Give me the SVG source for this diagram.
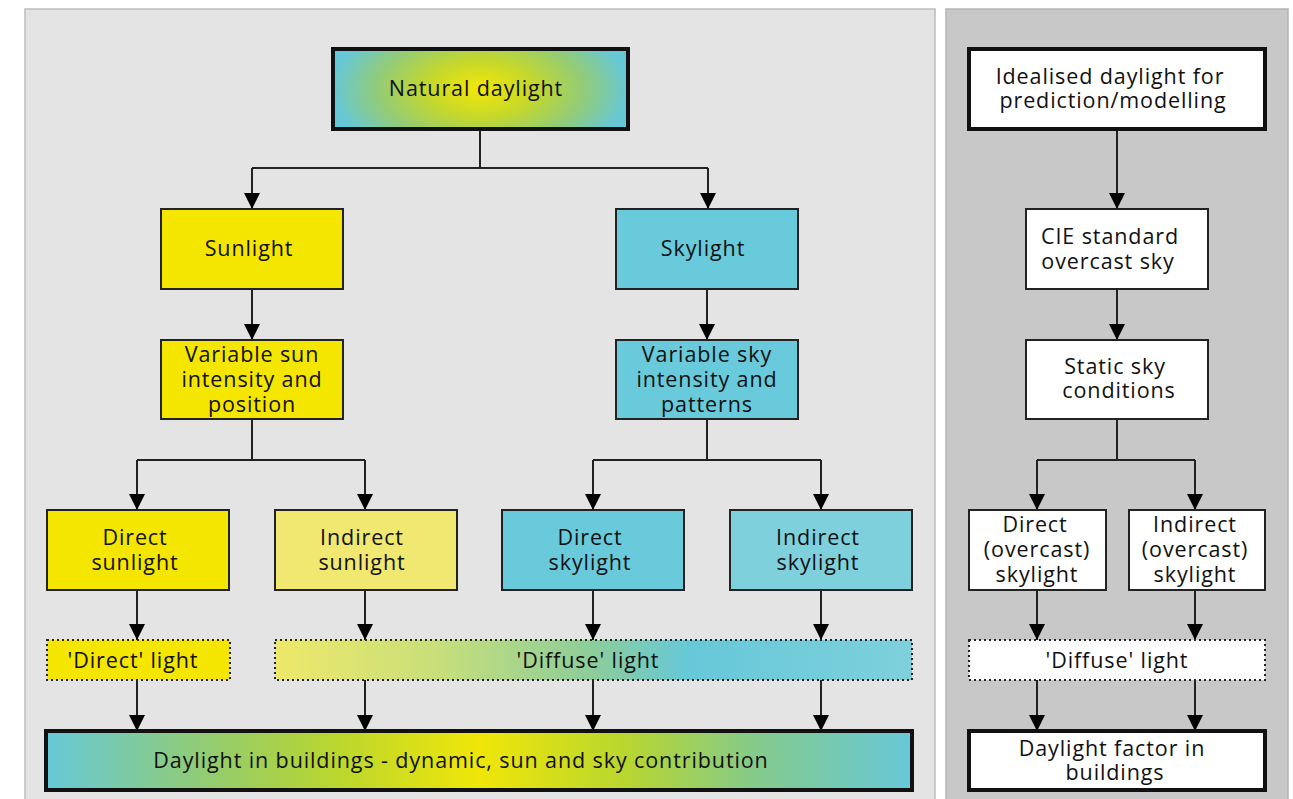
<svg xmlns="http://www.w3.org/2000/svg" width="1293" height="799" viewBox="0 0 1293 799">
<style>
text{font-family:"Open Sans","Noto Sans","DejaVu Sans",sans-serif;font-size:21.5px;letter-spacing:0.9px;fill:#111;text-anchor:middle}
.b{stroke:#222;stroke-width:2}
.thick{stroke:#111;stroke-width:4}
.dot{stroke:#222;stroke-width:2;stroke-dasharray:2 3}
.c{fill:none;stroke:#222;stroke-width:2}
.y{fill:#f5e600}.ly{fill:#f0e870}.t{fill:#68cadb}.lt{fill:#7dd0dc}.w{fill:#fff}
</style>
<defs>
<marker id="ah" markerWidth="16" markerHeight="16" viewBox="0 0 16 16" refX="16" refY="8" orient="auto" markerUnits="userSpaceOnUse">
<path d="M0,0 L16,8 L0,16 Z" fill="#000"/>
</marker>
<radialGradient id="gTop" cx="0.5" cy="0.5" r="0.5" gradientTransform="translate(0.5 0.5) scale(1 2) translate(-0.5 -0.5)">
<stop offset="0" stop-color="#f2e80a"/>
<stop offset="0.35" stop-color="#c6d82a"/>
<stop offset="0.7" stop-color="#92cc78"/>
<stop offset="1" stop-color="#66c8d6"/>
</radialGradient>
<linearGradient id="gDiff" x1="0" x2="1" y1="0" y2="0">
<stop offset="0" stop-color="#eee86a"/>
<stop offset="0.25" stop-color="#c9df7a"/>
<stop offset="0.5" stop-color="#8ccd9a"/>
<stop offset="0.65" stop-color="#66c8d8"/>
<stop offset="1" stop-color="#7ed0dc"/>
</linearGradient>
<linearGradient id="gBot" x1="0" x2="1" y1="0" y2="0">
<stop offset="0" stop-color="#66c8d8"/>
<stop offset="0.2" stop-color="#96cc6a"/>
<stop offset="0.33" stop-color="#b8d630"/>
<stop offset="0.5" stop-color="#f0e608"/>
<stop offset="0.67" stop-color="#b8d630"/>
<stop offset="0.82" stop-color="#84ca8c"/>
<stop offset="1" stop-color="#66c8d8"/>
</linearGradient>
</defs>
<rect width="1293" height="799" fill="#fff"/>
<rect id="panel-left" x="25" y="9" width="910" height="800" fill="#e4e4e4" stroke="#bdbdbd" stroke-width="1.5"/>
<rect id="panel-right" x="946" y="9" width="342" height="800" fill="#c8c8c8" stroke="#b5b5b5" stroke-width="1.5"/>

<g id="connectors" class="c">
<path d="M480,129 V168"/>
<path d="M252,168 H708"/>
<path d="M252,168 V209" marker-end="url(#ah)"/>
<path d="M708,168 V209" marker-end="url(#ah)"/>
<path d="M252,289 V340" marker-end="url(#ah)"/>
<path d="M707,289 V340" marker-end="url(#ah)"/>
<path d="M252,419 V460 M137,460 H365"/>
<path d="M137,460 V510" marker-end="url(#ah)"/>
<path d="M365,460 V510" marker-end="url(#ah)"/>
<path d="M707,419 V460 M593,460 H821"/>
<path d="M593,460 V510" marker-end="url(#ah)"/>
<path d="M821,460 V510" marker-end="url(#ah)"/>
<path d="M137,590 V640" marker-end="url(#ah)"/>
<path d="M365,590 V640" marker-end="url(#ah)"/>
<path d="M593,590 V640" marker-end="url(#ah)"/>
<path d="M821,590 V640" marker-end="url(#ah)"/>
<path d="M137,680 V731" marker-end="url(#ah)"/>
<path d="M365,680 V731" marker-end="url(#ah)"/>
<path d="M593,680 V731" marker-end="url(#ah)"/>
<path d="M821,680 V731" marker-end="url(#ah)"/>
<path d="M1117,129 V209" marker-end="url(#ah)"/>
<path d="M1117,289 V340" marker-end="url(#ah)"/>
<path d="M1117,419 V460 M1037,460 H1195"/>
<path d="M1037,460 V510" marker-end="url(#ah)"/>
<path d="M1195,460 V510" marker-end="url(#ah)"/>
<path d="M1037,590 V640" marker-end="url(#ah)"/>
<path d="M1195,590 V640" marker-end="url(#ah)"/>
<path d="M1037,680 V731" marker-end="url(#ah)"/>
<path d="M1195,680 V731" marker-end="url(#ah)"/>
</g>

<g id="natural-daylight"><rect x="333" y="49" width="295" height="80" fill="url(#gTop)" class="thick"/><text x="476" y="96">Natural daylight</text></g>
<g id="sunlight"><rect x="161" y="209" width="182" height="80" class="y b"/><text x="249" y="256">Sunlight</text></g>
<g id="skylight"><rect x="616" y="209" width="182" height="80" class="t b"/><text x="703" y="256">Skylight</text></g>
<g id="var-sun"><rect x="161" y="340" width="182" height="79" class="y b"/><text x="252" y="362">Variable sun</text><text x="252" y="387">intensity and</text><text x="252" y="412">position</text></g>
<g id="var-sky"><rect x="616" y="340" width="182" height="79" class="t b"/><text x="707" y="362">Variable sky</text><text x="707" y="387">intensity and</text><text x="707" y="412">patterns</text></g>
<g id="direct-sunlight"><rect x="47" y="510" width="182" height="80" class="y b"/><text x="135" y="545">Direct</text><text x="135" y="570">sunlight</text></g>
<g id="indirect-sunlight"><rect x="275" y="510" width="182" height="80" class="ly b"/><text x="362" y="545">Indirect</text><text x="362" y="570">sunlight</text></g>
<g id="direct-skylight"><rect x="502" y="510" width="182" height="80" class="t b"/><text x="590" y="545">Direct</text><text x="590" y="570">skylight</text></g>
<g id="indirect-skylight"><rect x="730" y="510" width="182" height="80" class="lt b"/><text x="818" y="545">Indirect</text><text x="818" y="570">skylight</text></g>
<g id="direct-light"><rect x="47" y="640" width="183" height="40" class="y dot"/><text x="133" y="668">'Direct' light</text></g>
<g id="diffuse-light"><rect x="275" y="640" width="637" height="40" fill="url(#gDiff)" class="dot"/><text x="588" y="668">'Diffuse' light</text></g>
<g id="daylight-buildings"><rect x="46" y="731" width="866" height="59" fill="url(#gBot)" class="thick"/><text x="461" y="768">Daylight in buildings - dynamic, sun and sky contribution</text></g>

<g id="idealised"><rect x="969" y="49" width="296" height="80" class="w thick"/><text x="1110" y="84">Idealised daylight for</text><text x="1113" y="108">prediction/modelling</text></g>
<g id="cie"><rect x="1026" y="209" width="182" height="80" class="w b"/><text x="1110" y="244">CIE standard</text><text x="1108" y="269">overcast sky</text></g>
<g id="static"><rect x="1026" y="340" width="182" height="79" class="w b"/><text x="1115" y="374">Static sky</text><text x="1119" y="398">conditions</text></g>
<g id="direct-overcast"><rect x="969" y="510" width="137" height="80" class="w b"/><text x="1035" y="532">Direct</text><text x="1037" y="557">(overcast)</text><text x="1037" y="582">skylight</text></g>
<g id="indirect-overcast"><rect x="1129" y="510" width="136" height="80" class="w b"/><text x="1195" y="532">Indirect</text><text x="1195" y="557">(overcast)</text><text x="1195" y="582">skylight</text></g>
<g id="diffuse-right"><rect x="969" y="640" width="296" height="40" class="w dot"/><text x="1117" y="668">'Diffuse' light</text></g>
<g id="daylight-factor"><rect x="969" y="731" width="296" height="59" class="w thick"/><text x="1112" y="756">Daylight factor in</text><text x="1115" y="780">buildings</text></g>
</svg>
